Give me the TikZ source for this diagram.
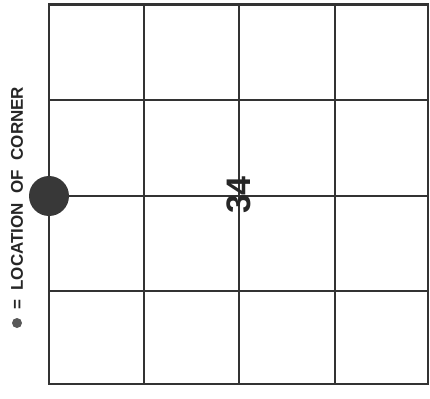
\documentclass[tikz,border=0pt]{standalone}
\usepackage{fontspec}
\setmainfont{Liberation Sans}
\begin{document}
\begin{tikzpicture}[x=1pt,y=-1pt,
  gridline/.style={draw=black!80,line width=1.6pt},
  lbl/.style={font=\bfseries\fontsize{17}{17}\selectfont,text=black!85,inner sep=0pt}]
\useasboundingbox (0,0) rectangle (430,398);
\foreach \x in {49,144,239,335,428} \draw[gridline] (\x,4) -- (\x,384);
\foreach \y in {5,100,196,291,384} \draw[gridline] (49,\y) -- (428,\y);
\draw[gridline] (49,4) rectangle (428,384);
\node[circle,fill=black!78,minimum size=40pt,inner sep=0pt] (corner) at (49,196) {};
\node[lbl,rotate=90,font=\bfseries\fontsize{34}{34}\selectfont] (num) at (239,195) {34};
\node[circle,fill=black!65,minimum size=10pt,inner sep=0pt] (dot) at (17,323) {};
\node[lbl,rotate=90,anchor=west] (legend) at (17,310) {=\ \ LOCATION\ \ OF\ \ CORNER};
\end{tikzpicture}
\end{document}
